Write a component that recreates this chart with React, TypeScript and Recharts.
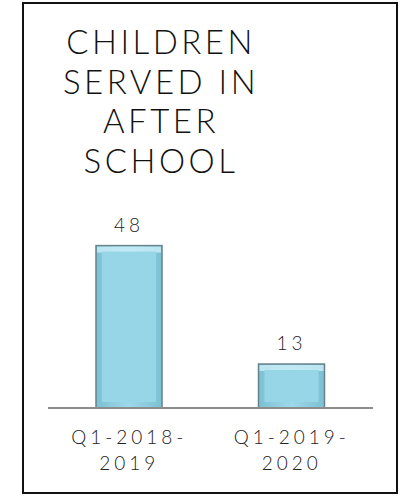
import { BarChart, Bar, XAxis, YAxis, LabelList } from 'recharts'

const categories = ['Q1-2018-2019', 'Q1-2019-2020']
const tickLines = [
  ['Q1-2018-', '2019'],
  ['Q1-2019-', '2020'],
]
const childrenServed = [48, 13]
const titleLines = ['CHILDREN', 'SERVED IN', 'AFTER', 'SCHOOL']

const data = categories.map((name, i) => ({ name, value: childrenServed[i], idx: i }))

const labelFont = 'Lato, "DejaVu Sans", sans-serif'

function BevelBar(props: { x?: number; y?: number; width?: number; height?: number }) {
  const { x = 0, y = 0, width = 0, height = 0 } = props
  const inset = Math.min(6, height / 4)
  return (
    <g>
      <rect x={x} y={y} width={width} height={height} fill="url(#barGrad)" stroke="#66838c" strokeWidth={1.5} />
      <rect x={x + 1} y={y + 1} width={width - 2} height={inset} fill="#c9eef7" opacity={0.8} />
      <rect
        x={x + inset}
        y={y + inset}
        width={width - inset * 2}
        height={Math.max(0, height - inset * 2)}
        fill="#96d6e7"
      />
    </g>
  )
}

function CategoryTick(props: { x?: number; y?: number; payload?: { index: number } }) {
  const { x = 0, y = 0, payload } = props
  const lines = tickLines[payload?.index ?? 0]
  return (
    <text
      x={x}
      y={y}
      textAnchor="middle"
      fill="#222"
      fontFamily={labelFont}
      fontWeight={300}
      fontSize={19}
      letterSpacing={4}
    >
      <tspan x={x} dy={28}>{lines[0]}</tspan>
      <tspan x={x} dy={26}>{lines[1]}</tspan>
    </text>
  )
}

export default function App() {
  return (
    <div style={{ position: 'absolute', left: 0, top: 0, width: 404, height: 497, background: '#fff' }}>
      <div
        style={{
          position: 'absolute',
          left: 22,
          top: 2,
          width: 372,
          height: 488,
          border: '2px solid #111',
        }}
      />
      <div
        style={{
          position: 'absolute',
          left: 61,
          top: 22,
          width: 200,
          textAlign: 'center',
          fontFamily: labelFont,
          fontWeight: 300,
          fontSize: 33,
          lineHeight: '39.5px',
          letterSpacing: 3.5,
          color: '#111',
        }}
      >
        {titleLines.map((t) => (
          <div key={t}>{t}</div>
        ))}
      </div>
      <div style={{ position: 'absolute', left: 0, top: 0 }}>
        <BarChart width={404} height={497} data={data} margin={{ top: 205, right: 31, bottom: 0, left: 48 }}>
          <defs>
            <linearGradient id="barGrad" x1="0" y1="0" x2="1" y2="0">
              <stop offset="0%" stopColor="#7cc0d3" />
              <stop offset="50%" stopColor="#9cd9ea" />
              <stop offset="100%" stopColor="#7cc0d3" />
            </linearGradient>
          </defs>
          <XAxis
            dataKey="name"
            height={89}
            axisLine={{ stroke: '#8c8c8c', strokeWidth: 2 }}
            tickLine={false}
            interval={0}
            tick={<CategoryTick />}
          />
          <YAxis hide domain={[0, 60]} />
          <Bar dataKey="value" barSize={66} shape={<BevelBar />} isAnimationActive={false}>
            <LabelList
              dataKey="value"
              position="top"
              offset={14}
              fill="#222"
              fontFamily={labelFont}
              fontWeight={300}
              fontSize={19}
              letterSpacing={4}
            />
          </Bar>
        </BarChart>
      </div>
    </div>
  )
}
